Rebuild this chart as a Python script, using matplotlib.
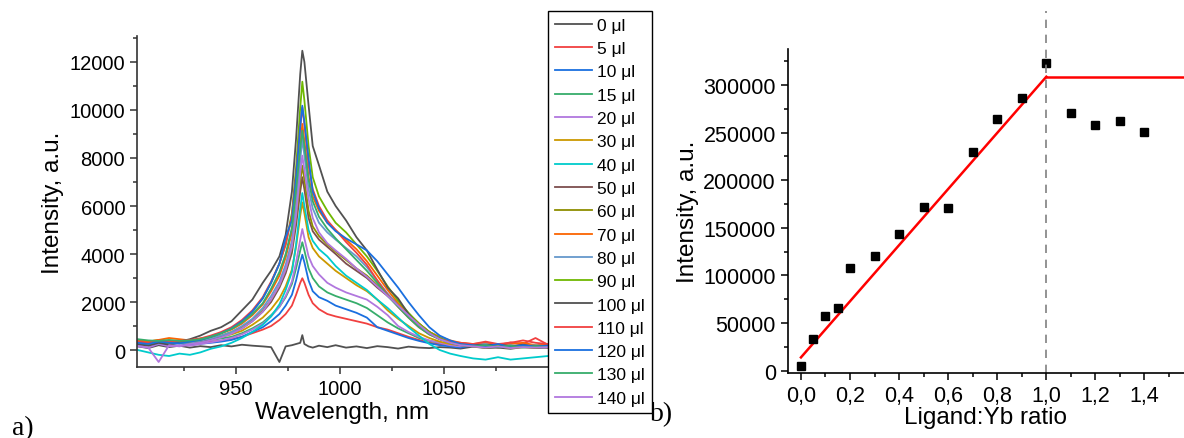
import matplotlib
matplotlib.use("Agg")
import matplotlib.pyplot as plt
from matplotlib import ticker

plt.rcParams['font.family'] = ['Liberation Sans', 'DejaVu Sans']

# ---- panel a) emission spectra ----
wavelength = [903, 908, 913, 918, 923, 928, 933, 938, 943, 948,
              953, 958, 963, 967, 971, 974, 977, 979, 981, 982,
              983, 985, 987, 990, 994, 998, 1003, 1008, 1013, 1018,
              1023, 1028, 1033, 1038, 1043, 1048, 1053, 1058, 1064, 1070,
              1076, 1082, 1088, 1094, 1100]

volumes = ['0', '5', '10', '15', '20', '30', '40', '50', '60', '70',
           '80', '90', '100', '110', '120', '130', '140']

colors = ['#515151', '#F14040', '#1A6FDF', '#37AD6B', '#B177DE', '#CC9900',
          '#00CBCC', '#7D4E4E', '#8E8E00', '#FB6501', '#6699CC', '#6FB802',
          '#515151', '#F14040', '#1A6FDF', '#37AD6B', '#B177DE']

i_0 = [150, 80, 200, 120, 180, 100, 160, 120, 200, 150,
       220, 180, 150, 120, -500, 150, 200, 250, 300, 620,
       250, 150, 100, 180, 120, 200, 100, 150, 80, 160,
       120, 60, 140, 100, 80, 120, 100, 60, 140, 80,
       100, 50, 120, 80, 100]
i_5 = [300, 250, 350, 280, 320, 250, 300, 350, 380, 450,
       550, 700, 850, 1000, 1250, 1500, 1850, 2300, 2800, 2990,
       2800, 2300, 1950, 1700, 1500, 1400, 1300, 1200, 1100, 950,
       850, 700, 550, 420, 300, 250, 200, 300, 220, 280,
       200, 320, 250, 500, 220]
i_10 = [250, 200, 300, 220, 280, 200, 260, 300, 350, 420,
        550, 750, 950, 1200, 1500, 1850, 2300, 2900, 3650, 3970,
        3650, 2900, 2450, 2200, 2050, 1850, 1700, 1550, 1350, 950,
        800, 650, 500, 380, 280, 200, 150, 100, 200, 120,
        180, 100, 150, 120, 180]
i_15 = [350, 300, 380, 320, 350, 300, 380, 420, 480, 550,
        700, 900, 1150, 1450, 1800, 2200, 2750, 3400, 4150, 4490,
        4150, 3400, 3000, 2650, 2400, 2250, 2100, 1950, 1750, 1450,
        1150, 900, 700, 500, 380, 300, 250, 200, 250, 180,
        220, 150, 200, 160, 200]
i_20 = [200, 100, 250, 150, 200, 180, 250, 320, 400, 500,
        650, 850, 1100, 1400, 1800, 2250, 2850, 3650, 4600, 5040,
        4650, 3900, 3500, 3150, 2800, 2600, 2400, 2250, 2100, 1800,
        1450, 1000, 750, 550, 400, 300, 200, 150, 250, 180,
        200, 120, 250, 150, 180]
i_30 = [400, 350, 420, 380, 400, 350, 420, 480, 550, 650,
        800, 1050, 1350, 1700, 2150, 2650, 3350, 4300, 5600, 6150,
        5700, 4700, 4250, 3900, 3600, 3300, 3000, 2700, 2450, 2100,
        1650, 1300, 1000, 700, 500, 350, 250, 200, 150, 100,
        150, 80, 120, 100, 150]
i_40 = [0, -100, -200, -250, -150, -200, -100, 50, 150, 300,
        500, 750, 1050, 1400, 1900, 2500, 3250, 4400, 5900, 6540,
        6000, 5000, 4550, 4200, 3900, 3500, 3100, 2800, 2500, 2100,
        1750, 1350, 950, 600, 250, 0, -150, -250, -350, -400,
        -300, -400, -350, -300, -250]
i_50 = [300, 250, 350, 280, 320, 300, 380, 450, 550, 700,
        900, 1200, 1600, 2000, 2600, 3200, 4050, 5200, 6600, 7200,
        6700, 5500, 4950, 4600, 4300, 4000, 3600, 3300, 3000, 2600,
        2250, 1900, 1500, 1100, 750, 500, 300, 200, 150, 200,
        100, 180, 120, 150, 100]
i_60 = [350, 300, 320, 380, 300, 350, 400, 500, 600, 750,
        950, 1250, 1650, 2100, 2700, 3350, 4250, 5500, 7000, 7680,
        7100, 5800, 5150, 4750, 4400, 4100, 3750, 3400, 3100, 2700,
        2300, 1900, 1500, 1100, 750, 500, 350, 250, 200, 150,
        180, 120, 200, 150, 120]
i_70 = [400, 350, 420, 500, 450, 400, 480, 550, 700, 850,
        1100, 1450, 1900, 2450, 3100, 3850, 4900, 6500, 8500, 9420,
        8700, 7200, 6400, 5800, 5300, 5000, 4600, 4200, 3700, 3100,
        2500, 1950, 1500, 1100, 750, 550, 400, 300, 250, 300,
        200, 250, 300, 200, 250]
i_80 = [300, 250, 280, 320, 280, 300, 380, 480, 600, 750,
        1000, 1300, 1750, 2250, 2850, 3550, 4550, 6000, 7900, 8800,
        8100, 6700, 5900, 5300, 4900, 4600, 4250, 3900, 3450, 2900,
        2350, 1850, 1400, 1000, 700, 500, 350, 250, 200, 250,
        150, 200, 150, 200, 150]
i_90 = [300, 200, 350, 250, 300, 350, 420, 550, 700, 900,
        1200, 1600, 2150, 2800, 3600, 4400, 5700, 7600, 10100, 11180,
        10400, 8500, 7200, 6400, 5800, 5300, 4900, 4400, 3900, 3300,
        2650, 2050, 1550, 1100, 750, 500, 350, 250, 200, 150,
        200, 100, 150, 180, 120]
i_100 = [250, 180, 300, 220, 350, 450, 600, 800, 950, 1200,
         1650, 2100, 2800, 3300, 3900, 4800, 6600, 8800, 11500, 12470,
         12000, 10200, 8500, 7700, 6600, 6000, 5400, 4700, 4150, 3350,
         2600, 2150, 1500, 1000, 700, 450, 320, 250, 220, 180,
         250, 150, 220, 120, 200]
i_110 = [350, 300, 400, 320, 380, 420, 480, 600, 750, 950,
         1250, 1650, 2200, 2850, 3600, 4400, 5600, 7300, 9300, 10110,
         9400, 7700, 6700, 6000, 5400, 5000, 4500, 4050, 3550, 2900,
         2300, 1800, 1350, 950, 650, 450, 350, 300, 250, 350,
         250, 300, 400, 300, 250]
i_120 = [300, 250, 350, 300, 280, 350, 420, 550, 700, 900,
         1200, 1600, 2150, 2800, 3600, 4700, 5400, 7200, 9300, 10180,
         9500, 8000, 6600, 5900, 5300, 4950, 4650, 4400, 4150, 3700,
         3150, 2600, 2000, 1450, 950, 600, 400, 250, 200, 150,
         250, 120, 200, 150, 180]
i_130 = [450, 400, 380, 420, 380, 400, 450, 550, 700, 880,
         1150, 1500, 1950, 2550, 3250, 4000, 5100, 6700, 8400, 9140,
         8500, 7100, 6200, 5550, 5050, 4650, 4200, 3750, 3300, 2800,
         2250, 1800, 1350, 950, 650, 450, 300, 200, 150, 200,
         120, 180, 100, 150, 120]
i_140 = [150, 100, -500, 200, 150, 250, 300, 400, 520, 680,
         900, 1200, 1600, 2100, 2700, 3350, 4300, 5600, 7400, 8100,
         7500, 6300, 5500, 4900, 4450, 4150, 3800, 3400, 3050, 2650,
         2250, 1850, 1450, 1050, 700, 450, 300, 200, 150, 100,
         150, 80, 120, 100, 120]

spectra = [i_0, i_5, i_10, i_15, i_20, i_30, i_40, i_50, i_60, i_70,
           i_80, i_90, i_100, i_110, i_120, i_130, i_140]

# ---- panel b) integrated intensity vs ratio ----
ratio = [0.0, 0.05, 0.1, 0.15, 0.2, 0.3, 0.4, 0.5, 0.6, 0.7, 0.8, 0.9,
         1.0, 1.1, 1.2, 1.3, 1.4]
intensity = [5300, 33300, 57800, 65500, 107500, 120800, 143500, 171600,
             170500, 229300, 264300, 286000, 323100, 270600, 258300,
             262200, 250300]
fit_x = [0.0, 1.0]
fit_y = [14000, 308700]
plateau_x = [1.0, 1.6]
plateau_y = [308700, 308700]

W, H = 1184, 439
fig = plt.figure(figsize=(W / 100, H / 100), dpi=100)

# left axes
ax1 = fig.add_axes([137 / W, 1 - 368 / H, (548 - 137) / W, (368 - 37) / H])
for vol, col, ys in zip(volumes, colors, spectra):
    ax1.plot(wavelength, ys, color=col, lw=1.3, label=vol + ' \u03bcl')
ax1.set_xlim(902.6, 1100)
ax1.set_ylim(-708, 13083)
ax1.spines['top'].set_visible(False)
ax1.spines['right'].set_visible(False)
for s in ['left', 'bottom']:
    ax1.spines[s].set_linewidth(1.2)
    ax1.spines[s].set_color('#333333')
ax1.xaxis.set_major_locator(ticker.FixedLocator([950, 1000, 1050]))
ax1.xaxis.set_minor_locator(ticker.FixedLocator([925, 975, 1025, 1075]))
ax1.yaxis.set_major_locator(ticker.MultipleLocator(2000))
ax1.yaxis.set_minor_locator(ticker.MultipleLocator(1000))
ax1.tick_params(which='major', length=5, width=1.1, labelsize=14.5, color='#333333')
ax1.tick_params(which='minor', length=3, width=1.1, color='#333333')
ax1.set_xlabel('Wavelength, nm', fontsize=17.5, labelpad=2)
ax1.set_ylabel('Intensity, a.u.', fontsize=17.5, labelpad=4)

leg = fig.legend(loc='upper left', bbox_to_anchor=(548.3 / W, 1 - 11.7 / H),
                 bbox_transform=fig.transFigure, fontsize=12.5, frameon=True,
                 fancybox=False, edgecolor='black', framealpha=1,
                 borderaxespad=0, handlelength=2.1, handletextpad=0.3,
                 labelspacing=0.47, borderpad=0.4)
leg.get_frame().set_linewidth(1.0)

# right axes
ax2 = fig.add_axes([787.7 / W, 1 - 374.3 / H, (W - 787.7) / W, (374.3 - 50) / H])
ax2.plot(fit_x, fit_y, color='red', lw=1.8)
ax2.plot(plateau_x, plateau_y, color='red', lw=1.8)
ax2.plot(ratio, intensity, 's', color='black', ms=6)
ax2.axvline(1.0, ymin=0, ymax=1.117, color='gray', lw=1.2, ls=(0, (5, 4)),
            clip_on=False)
ax2.set_xlim(-0.054, 1.561)
ax2.set_ylim(-2700, 337800)
ax2.spines['top'].set_visible(False)
ax2.spines['right'].set_visible(False)
for s in ['left', 'bottom']:
    ax2.spines[s].set_linewidth(1.2)
ax2.xaxis.set_major_locator(ticker.MultipleLocator(0.2))
ax2.xaxis.set_minor_locator(ticker.MultipleLocator(0.1))
ax2.xaxis.set_major_formatter(
    ticker.FuncFormatter(lambda v, p: f'{v:.1f}'.replace('.', ',')))
ax2.yaxis.set_major_locator(ticker.MultipleLocator(50000))
ax2.yaxis.set_minor_locator(ticker.MultipleLocator(25000))
ax2.tick_params(which='major', length=5, width=1.1, labelsize=15.5)
ax2.tick_params(which='minor', length=3, width=1.1)
ax2.set_xlabel('Ligand:Yb ratio', fontsize=17.5, labelpad=0)
ax2.set_ylabel('Intensity, a.u.', fontsize=17.5, labelpad=3)

fig.text(12 / W, 1 - 435 / H, 'a)', family='Liberation Serif', fontsize=20,
         va='baseline', ha='left')
fig.text(650 / W, 1 - 421 / H, 'b)', family='Liberation Serif', fontsize=20,
         va='baseline', ha='left')

fig.savefig('out.png', dpi=100)
